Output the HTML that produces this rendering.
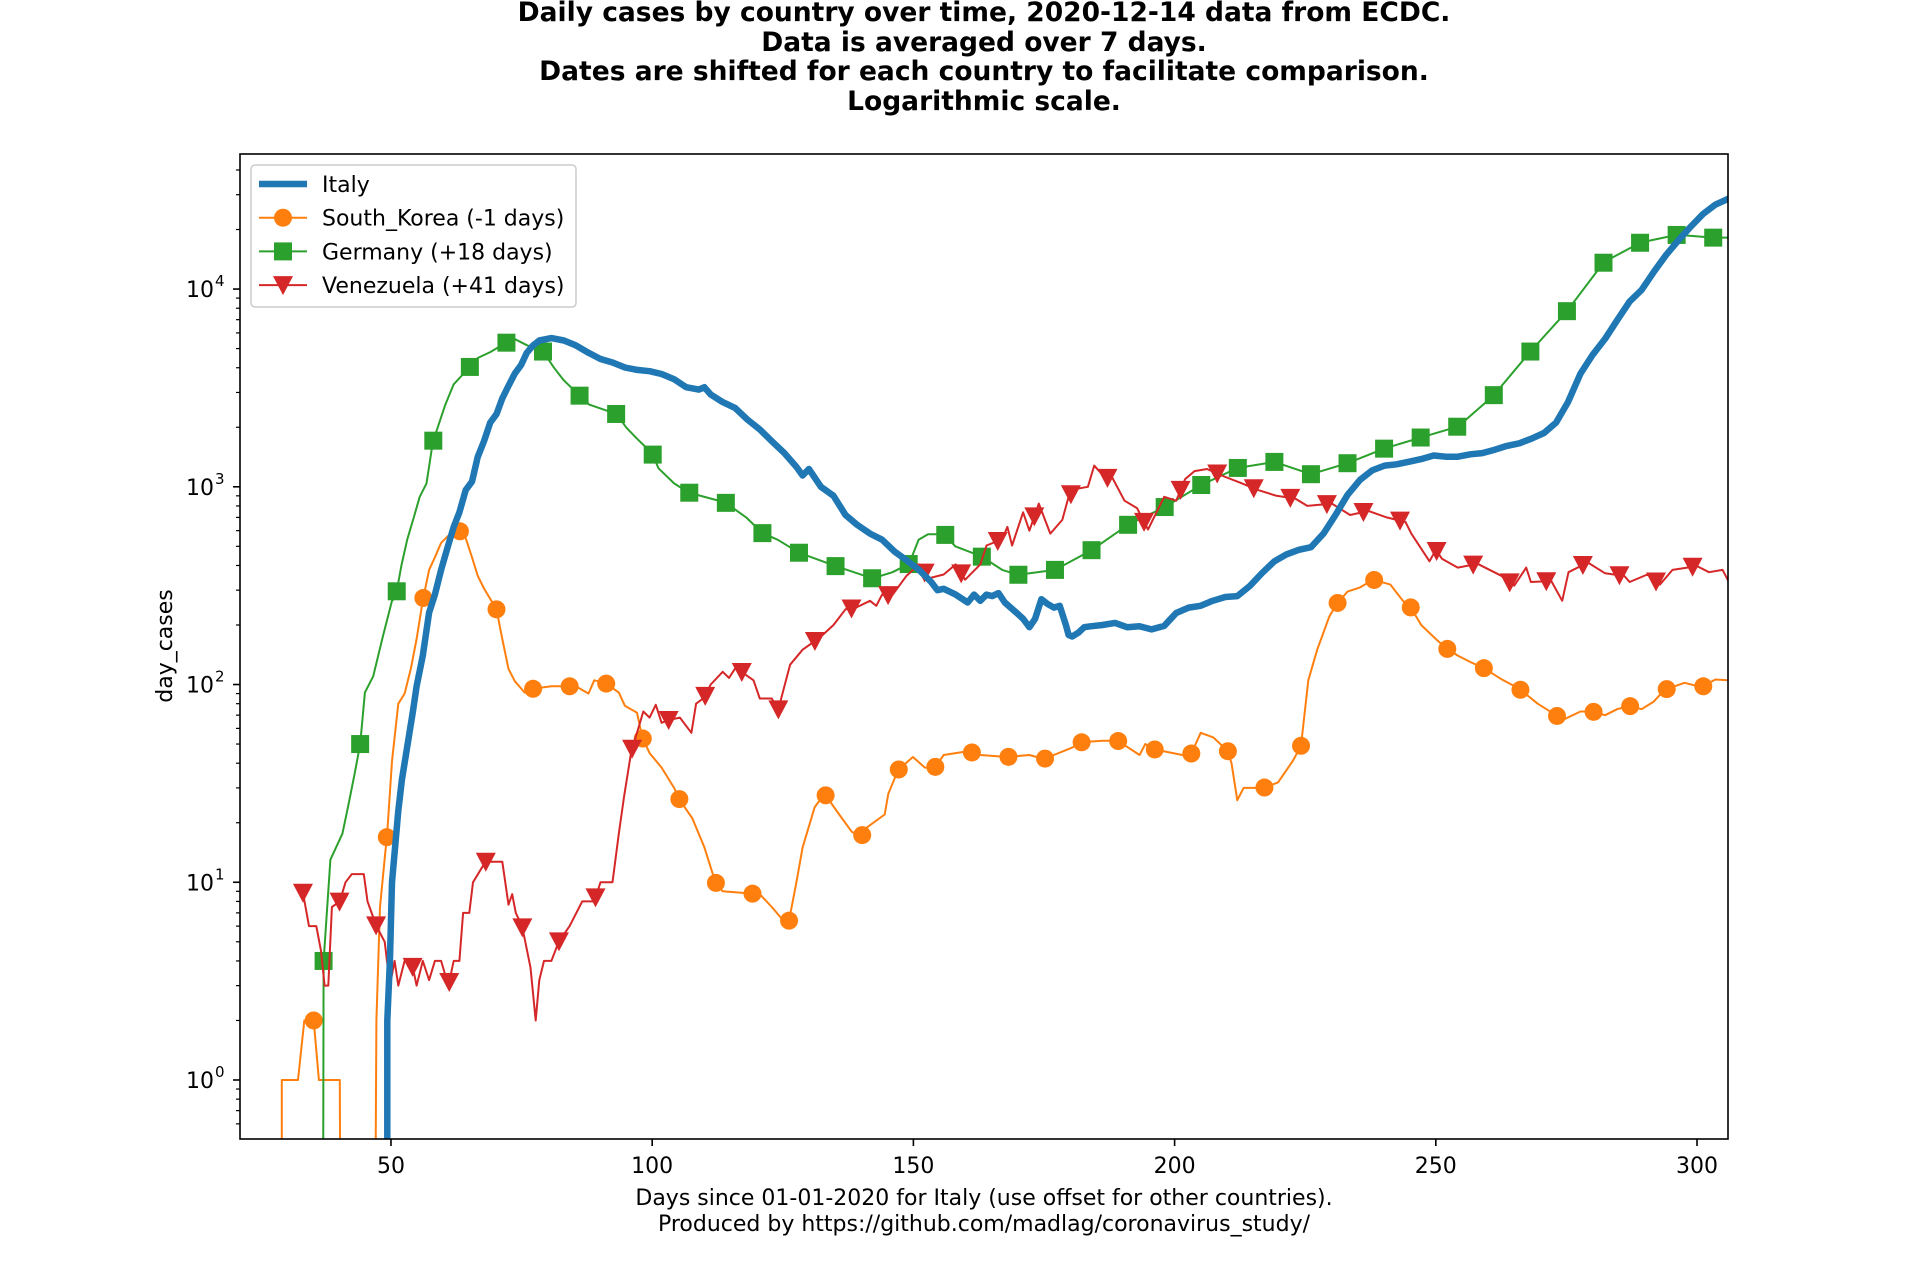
<!DOCTYPE html>
<html><head><meta charset="utf-8"><style>
html,body{margin:0;padding:0;background:#fff;}
svg{display:block;font-family:"DejaVu Sans","Liberation Sans",sans-serif;}
</style></head><body>
<svg id="chart" width="1920" height="1280" viewBox="0 0 1920 1280" xmlns="http://www.w3.org/2000/svg">
<rect width="1920" height="1280" fill="#fff"/>
<g font-weight="bold" font-size="26.5" text-anchor="middle" fill="#000">
<text x="984" y="21">Daily cases by country over time, 2020-12-14 data from ECDC.</text>
<text x="984" y="51">Data is averaged over 7 days.</text>
<text x="984" y="80">Dates are shifted for each country to facilitate comparison.</text>
<text x="984" y="110">Logarithmic scale.</text>
</g>
<defs><clipPath id="plotclip"><rect x="240" y="154" width="1488" height="985"/></clipPath></defs>
<g id="series" clip-path="url(#plotclip)"></g>
<rect x="240" y="154" width="1488" height="985" fill="none" stroke="#000" stroke-width="1.6"/>
<g id="axes"></g>
<g font-size="22" text-anchor="middle" fill="#000">
<text x="984" y="1205">Days since 01-01-2020 for Italy (use offset for other countries).</text>
<text x="984" y="1231">Produced by https://github.com/madlag/coronavirus_study/</text>
</g>
<text font-size="22" text-anchor="middle" transform="translate(172,646) rotate(-90)">day_cases</text>
<g id="legend"></g>
</svg>
<script>
const xTicks = [50, 100, 150, 200, 250, 300];
const yTickExps = [0, 1, 2, 3, 4];

const italyDays = [49.3,49.3,49.8,50.2,51.4,52.1,53.3,54.2,54.9,56.1,57.3,58.4,59.6,60.8,62.0,63.1,64.3,65.5,66.6,67.8,69.0,70.2,71.3,72.5,73.7,74.9,76.0,77.2,78.4,80.7,83.1,85.4,87.8,90.1,92.4,94.8,97.1,99.5,101.8,104.2,106.5,108.9,110.0,111.2,113.5,115.9,118.2,120.6,122.9,125.3,127.6,128.8,130.0,132.3,134.7,137.0,139.3,141.7,144.0,146.4,148.7,151.1,153.4,154.6,155.8,158.1,160.4,161.6,162.8,164.0,165.1,166.3,167.5,169.8,171.0,172.2,173.3,174.5,175.7,176.9,178.0,179.2,179.7,180.4,181.6,182.7,183.9,186.2,188.6,190.9,193.3,195.6,198.0,200.3,202.7,205.0,207.3,209.7,212.0,214.4,216.7,219.1,221.4,223.8,226.1,228.5,230.8,233.1,235.5,237.8,240.2,242.5,244.9,247.2,249.6,251.9,254.2,256.6,258.9,261.3,263.6,266.0,268.3,270.7,273.0,275.3,277.7,280.0,282.4,284.7,287.1,289.4,291.8,294.1,296.5,298.8,301.1,303.5,306.1];
const italyVals = [0.2,2,4,10,23,33,52,73,98,140,231,285,380,490,627,743,962,1062,1414,1700,2110,2330,2800,3240,3735,4130,4760,5190,5490,5650,5490,5190,4760,4430,4250,4010,3900,3840,3720,3500,3190,3100,3190,2930,2680,2500,2190,1950,1700,1480,1260,1140,1230,1000,900,720,640,580,540,470,425,380,330,300,305,285,260,285,265,285,280,290,260,230,215,195,215,270,255,245,250,200,178,175,183,195,197,200,205,195,197,190,198,230,245,250,265,277,280,315,365,420,455,480,495,580,720,910,1085,1210,1280,1300,1340,1380,1440,1420,1420,1460,1480,1540,1610,1660,1750,1870,2110,2680,3735,4640,5600,6950,8640,9900,12300,14900,17700,20700,23900,26700,28700];

const koreaDays = [29.1,29.1,32.2,33.4,35.2,36.2,40.2,40.3,47.0,47.2,47.9,49.3,50.2,51.4,52.6,53.8,54.9,56.1,57.3,58.4,59.6,60.8,62.0,63.1,64.3,65.5,66.6,67.8,70.2,71.3,72.5,73.7,75.6,77.0,80.7,85.4,87.8,88.9,91.0,93.6,94.8,97.1,98.1,99.5,101.8,104.2,105.3,107.7,110.0,112.1,113.5,120.6,122.9,126.0,127.6,128.8,131.1,133.0,135.8,138.2,140.0,141.2,144.5,145.2,147.1,149.9,152.2,154.1,155.8,160.4,162.8,167.9,172.2,175.0,180.4,182.0,186.2,189.1,193.3,194.4,196.1,201.5,202.9,205.0,207.4,210.2,210.9,212.0,213.2,217.0,219.8,222.6,224.2,225.6,227.3,229.6,231.0,233.1,235.5,238.0,241.3,243.7,245.1,247.2,250.0,252.1,254.2,256.6,259.2,262.4,266.0,269.5,273.0,274.2,277.7,280.0,282.4,284.7,287.0,289.4,291.7,293.8,297.6,300.9,303.5,306.1];
const koreaVals = [0.2,1,1,2,2,1,1,0.2,0.2,2,7.5,18,41,80,90,120,170,266,380,440,520,560,590,600,550,440,355,306,240,170,120,104,91,95,98,98,90,105,102,91,78,72,54,45,38,30,26,21,15,10,9,8.7,7.5,6,10,15,24,28,22,18,17,19,22,28,37,43,38,38,44,46,44,43,44,42,48,51,52,52,44,50,47,44,43,57,54,46,40,26,30,30,32,41,49,105,150,220,255,295,310,339,320,265,248,200,170,152,140,130,121,107,95,80,70,66,73,73,70,75,78,75,82,94,102,97,106,105];

const germanyDays = [37.0,37.1,38.4,40.7,41.9,43.1,44.1,45.0,46.6,48.4,50.2,50.9,52.0,53.1,54.5,55.5,56.8,58.0,60.4,62.0,65.0,66.6,69.0,72.0,73.6,76.0,79.1,81.2,83.0,86.1,88.0,93.2,95.0,97.1,100.0,101.2,104.2,107.0,114.0,118.0,121.1,124.0,128.1,135.1,142.2,146.0,149.2,151.0,152.8,156.0,158.0,163.0,167.0,170.1,177.1,184.1,191.2,198.0,205.0,212.0,219.1,226.1,233.1,240.2,247.2,254.3,261.0,268.1,275.1,282.2,289.2,296.2,303.0,306.1];
const germanyVals = [0.2,4,13,17.6,25,36,50,91,110,173,265,277,400,540,720,890,1040,1680,2600,3300,4010,4480,4800,5340,5600,5200,4830,4000,3470,2890,2600,2330,2000,1750,1476,1240,1040,935,833,700,583,540,464,397,344,370,408,540,575,575,500,445,380,359,380,478,645,787,1018,1244,1336,1158,1316,1563,1778,2020,2886,4830,7730,13700,17200,18800,18200,18200];

const venezuelaDays = [33.1,34.3,35.7,36.6,37.3,38.0,38.7,40.2,41.3,42.5,44.8,45.5,47.2,48.8,49.8,50.7,51.4,52.6,54.0,54.9,56.1,57.3,58.4,59.6,61.0,62.0,63.1,63.8,65.0,65.7,68.1,71.3,72.5,73.2,73.9,75.1,76.7,77.7,78.4,79.3,80.7,82.1,84.2,86.6,88.9,90.1,92.4,93.6,94.6,96.0,97.1,98.3,99.5,100.7,101.8,103.0,105.3,107.5,108.4,110.0,111.2,113.5,114.7,115.9,117.1,119.4,120.6,122.9,124.1,125.3,126.4,128.8,132.1,134.7,137.0,138.9,141.7,142.9,144.0,145.9,148.7,151.1,152.9,155.8,158.1,159.9,162.8,164.0,167.0,168.0,168.9,171.0,172.2,174.0,176.2,178.5,179.7,181.1,183.4,184.6,186.7,188.1,190.4,192.8,194.9,198.0,200.3,202.0,203.8,206.2,209.0,212.5,216.0,219.5,223.1,225.4,230.1,233.6,237.1,240.6,244.2,245.3,248.8,250.0,251.2,254.2,258.0,262.5,265.0,267.3,268.2,272.1,274.2,275.4,279.1,282.4,286.1,287.1,290.5,292.9,295.3,300.0,302.3,304.9,306.1];
const venezuelaVals = [9,6,6,4.5,3,3,7.5,8,10,11,11,8,6,5,3,4,3,4,3.9,3,4,3.2,4,4,3,4,4,7,7,10,12.7,12.7,7.7,8.7,7,6,3.7,2,3.2,4,4,5,6,8,8,10,10,17.6,27,46,57,73,68,79,64,66,68,57,80,86,100,116,108,121,116,105,85,85,74,98,126,150,173,200,240,244,265,250,285,282,355,405,344,360,405,339,405,505,543,627,505,743,600,822,580,680,890,975,1000,1280,1110,1109,850,780,608,890,850,1094,1200,1230,1141,1050,962,900,871,800,822,720,755,700,664,580,420,480,432,390,408,355,316,390,330,334,265,370,414,365,354,330,360,320,380,397,370,380,330];

const koreaMarkStart = 35.2, germanyMarkStart = 37.1, venezuelaMarkStart = 33.15;

const X0 = 240, X1 = 1728, Y0 = 154, Y1 = 1139;
const xMin = 21.1, xMax = 305.93, lMin = Math.log10(0.503), lMax = 4.683;
function xs(d){ return X0 + (d - xMin) / (xMax - xMin) * (X1 - X0); }
function ys(v){ return Y1 - (Math.log10(v) - lMin) / (lMax - lMin) * (Y1 - Y0); }
const NS = 'http://www.w3.org/2000/svg';
function mk(tag, attrs, parent){ const e = document.createElementNS(NS, tag); for (const k in attrs) e.setAttribute(k, attrs[k]); parent.appendChild(e); return e; }
function interpLog(days, vals, d){
  for (let i = 1; i < days.length; i++){
    if (days[i] >= d && days[i-1] <= d){
      const t = days[i] === days[i-1] ? 1 : (d - days[i-1]) / (days[i] - days[i-1]);
      return Math.pow(10, Math.log10(vals[i-1]) + t * (Math.log10(vals[i]) - Math.log10(vals[i-1])));
    }
  }
  return null;
}
const seriesG = document.getElementById('series');
function drawLine(days, vals, color, w, name){
  const pts = days.map((d, i) => xs(d).toFixed(1) + ',' + ys(vals[i]).toFixed(1)).join(' ');
  const pl = mk('polyline', {points: pts, fill: 'none', stroke: color, 'stroke-width': w, 'stroke-linejoin': 'round'}, seriesG);
  
  
}
function marker(shape, cx, cy, color, parent){
  let m;
  if (shape === 'circle') m = mk('circle', {cx: cx, cy: cy, r: 9, fill: color}, parent);
  else if (shape === 'square') m = mk('rect', {x: cx - 9, y: cy - 9, width: 18, height: 18, fill: color}, parent);
  else m = mk('polygon', {points: (cx-10)+','+(cy-9)+' '+(cx+10)+','+(cy-9)+' '+cx+','+(cy+10), fill: color}, parent);
  return m;
}
function drawMarkers(days, vals, start, shape, color, name){
  for (let d = start; d <= days[days.length-1]; d += 7){
    const v = interpLog(days, vals, d);
    if (v === null) continue;
    const m = marker(shape, xs(d), ys(v), color, seriesG);
    
    
  }
}
drawLine(koreaDays, koreaVals, '#ff7f0e', 2, 'south-korea-line');
drawMarkers(koreaDays, koreaVals, koreaMarkStart, 'circle', '#ff7f0e', 'south-korea-marker');
drawLine(germanyDays, germanyVals, '#2ca02c', 2, 'germany-line');
drawMarkers(germanyDays, germanyVals, germanyMarkStart, 'square', '#2ca02c', 'germany-marker');
drawLine(venezuelaDays, venezuelaVals, '#d62728', 2, 'venezuela-line');
drawMarkers(venezuelaDays, venezuelaVals, venezuelaMarkStart, 'triangle', '#d62728', 'venezuela-marker');
drawLine(italyDays, italyVals, '#1f77b4', 6.5, 'italy-line');

const axesG = document.getElementById('axes');
xTicks.forEach(t => {
  const x = xs(t);
  const l = mk('line', {x1: x, x2: x, y1: Y1, y2: Y1 + 7, stroke: '#000', 'stroke-width': 1.6}, axesG);
  
  
  const tx = mk('text', {x: x, y: 1173, 'font-size': 22, 'text-anchor': 'middle'}, axesG);
  tx.textContent = t;
  
  
});
for (let e = -1; e <= 4; e++){
  for (let m = 1; m <= 9; m++){
    const v = m * Math.pow(10, e);
    const y = ys(v);
    if (y < Y0 - 0.5 || y > Y1 + 0.5) continue;
    const major = m === 1;
    const l = mk('line', {x1: X0 - (major ? 7 : 4), x2: X0, y1: y, y2: y, stroke: '#000', 'stroke-width': major ? 1.6 : 1.2}, axesG);
    
    
  }
}
yTickExps.forEach(e => {
  const y = ys(Math.pow(10, e));
  const tx = mk('text', {x: 214, y: y + 8, 'font-size': 22, 'text-anchor': 'end'}, axesG);
  tx.textContent = '10';
  
  
  const sup = mk('text', {x: 215, y: y - 3, 'font-size': 15, 'text-anchor': 'start'}, axesG);
  sup.textContent = e;
  
  
});

const legendLabels = ['Italy', 'South_Korea (-1 days)', 'Germany (+18 days)', 'Venezuela (+41 days)'];
const legendColors = ['#1f77b4', '#ff7f0e', '#2ca02c', '#d62728'];
const legendShapes = [null, 'circle', 'square', 'triangle'];
const lg = document.getElementById('legend');
mk('rect', {x: 251, y: 165, width: 325, height: 142, rx: 4, fill: '#fff', 'fill-opacity': 0.8, stroke: '#cccccc', 'stroke-width': 1.5}, lg);
legendLabels.forEach((lab, i) => {
  const y = 184 + i * 33.7;
  const g = mk('g', {}, lg);
  
  
  mk('line', {x1: 259, x2: 307, y1: y, y2: y, stroke: legendColors[i], 'stroke-width': i === 0 ? 6.5 : 2}, g);
  if (legendShapes[i]) marker(legendShapes[i], 283, y, legendColors[i], g);
  const t = mk('text', {x: 322, y: y + 8, 'font-size': 22}, g);
  t.textContent = lab;
});
</script>
</body></html>
